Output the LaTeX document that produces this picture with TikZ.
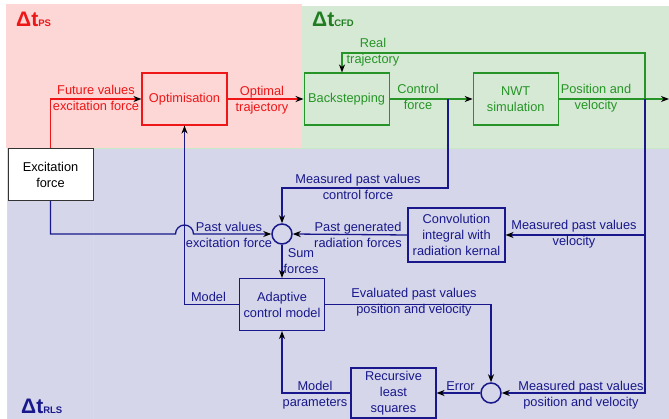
\documentclass[tikz,border=0pt]{standalone}
\usepackage{fontspec}
\setmainfont{Liberation Sans}
\usetikzlibrary{positioning,arrows.meta}
\definecolor{psred}{RGB}{238,22,22}
\definecolor{cfdgreen}{RGB}{38,148,38}
\definecolor{rlsblue}{RGB}{24,24,140}
\definecolor{psfill}{RGB}{253,214,214}
\definecolor{cfdfill}{RGB}{214,233,213}
\definecolor{rlsfill}{RGB}{213,214,233}
\definecolor{rlsedge}{RGB}{200,232,200}
\pgfmathsetmacro{\blockw}{85}
\pgfmathsetmacro{\blockh}{52}
\pgfmathsetmacro{\hopr}{9}
\tikzset{
  block/.style={draw, line width=1.1pt, minimum width=\blockw pt, minimum height=\blockh pt,
    inner sep=0pt, align=center},
  junction/.style={circle, draw=rlsblue, line width=1.5pt, minimum size=20pt, inner sep=0pt},
  link/.style={line width=1.3pt},
  arrowed/.style={-{Stealth[black,length=8pt,width=6pt,inset=2.5pt]}},
  lbl/.style={align=center, inner sep=0pt},
  scalelbl/.style={anchor=base west, inner sep=0pt, font=\fontsize{21}{21}\selectfont\bfseries},
}
\newcommand{\subsc}[1]{{\fontsize{9.5}{10}\selectfont #1}}

\begin{document}
\begin{tikzpicture}[x=1pt, y=-1pt, font=\fontsize{12.8}{16}\selectfont]
\useasboundingbox (0,0) rectangle (669,419);
% time scale regions
\fill[psfill] (6,4) rectangle (302,148);
\fill[cfdfill] (302,6) rectangle (669,148);
\draw[rlsedge, fill=rlsfill, line width=0.8pt] (7,148) rectangle (93,420);
\draw[rlsedge, fill=rlsfill, line width=0.8pt] (93,148) rectangle (670,420);
\node[scalelbl, psred] (dtps) at (16,26.5) {Δt\subsc{PS}};
\node[scalelbl, cfdgreen!85!black] (dtcfd) at (312,27) {Δt\subsc{CFD}};
\node[scalelbl, rlsblue] (dtrls) at (21,413) {Δt\subsc{RLS}};
% define blocks
\node[block, draw=psred, text=psred] (opt) at (184.5,99) {Optimisation};
\node[block, draw=black!80, fill=white, line width=1pt] (exc) at (50.5,174.5) {Excitation\\force};
\node[block, draw=cfdgreen, text=cfdgreen, right=76pt of opt] (back) {Backstepping};
\node[block, draw=cfdgreen, text=cfdgreen, right=83pt of back] (nwt) {NWT\\simulation};
\node[block, draw=rlsblue, text=rlsblue, minimum width=97pt, minimum height=54pt] (conv)
  at (456.5,235) {Convolution\\integral with\\radiation kernal};
\node[junction] (sum) at (282,234) {};
\node[block, draw=rlsblue, text=rlsblue] (acm) at (282,304.5) {Adaptive\\control model};
\node[junction] (err) at (491,393) {};
\node[block, draw=rlsblue, text=rlsblue, minimum height=50pt] (rls) at (393.5,393) {Recursive\\least\\squares};
% branch points
\coordinate (out) at (669,99);
\coordinate (pvtap) at (645,99);
\coordinate (cftap) at (448,99);
\coordinate (rtturn) at (342,53);
\coordinate (cfturn) at (282,188);
\coordinate (hopin) at (175.5,234);
% draw connections
\draw[link, psred, arrowed] (exc.north) |- (opt.west);
\draw[link, psred, arrowed] (opt.east) -- (back.west);
\draw[link, cfdgreen, arrowed] (back.east) -- (nwt.west);
\draw[link, cfdgreen, arrowed] (nwt.east) -- (out);
\draw[link, cfdgreen, arrowed] (pvtap) |- (rtturn) -- (rtturn |- back.north);
\draw[link, rlsblue, arrowed] (cftap) |- (cfturn) -- (sum.north);
\draw[link, rlsblue, arrowed] (pvtap) |- (conv.east);
\draw[link, rlsblue, arrowed] (pvtap) |- (err.east);
\draw[link, rlsblue, arrowed] (conv.west) -- (sum.east);
\draw[link, rlsblue, arrowed] (exc.south) |- (hopin)
  arc[start angle=180, end angle=0, radius=\hopr pt] -- (sum.west);
\draw[link, rlsblue, arrowed] (sum.south) -- (acm.north);
\draw[link, rlsblue, arrowed] (acm.west) -| (opt.south);
\draw[link, rlsblue, arrowed] (acm.east) -| (err.north);
\draw[link, rlsblue, arrowed] (err.west) -- (rls.east);
\draw[link, rlsblue, arrowed] (rls.west) -| (acm.south);
% add labels
\node[lbl, psred] at (96,98) {Future values\\excitation force};
\node[lbl, psred] at (262,100.5) {Optimal\\trajectory};
\node[lbl, cfdgreen] at (373,52.5) {Real\\trajectory};
\node[lbl, cfdgreen] at (418,97) {Control\\force};
\node[lbl, cfdgreen] at (596,98.5) {Position and\\velocity};
\node[lbl, rlsblue] at (358,186.5) {Measured past values\\control force};
\node[lbl, rlsblue] at (229,234.5) {Past values\\excitation force};
\node[lbl, rlsblue] at (358,235) {Past generated\\radiation forces};
\node[lbl, rlsblue] at (574,233.7) {Measured past values\\velocity};
\node[lbl, rlsblue] at (301,261.5) {Sum\\forces};
\node[lbl, rlsblue, anchor=base] at (208.5,302) {Model};
\node[lbl, rlsblue] at (414,302) {Evaluated past values\\position and velocity};
\node[lbl, rlsblue, anchor=base] at (460.5,390) {Error};
\node[lbl, rlsblue] at (581,394.7) {Measured past values\\position and velocity};
\node[lbl, rlsblue] at (315,394.7) {Model\\parameters};
\end{tikzpicture}
\end{document}
